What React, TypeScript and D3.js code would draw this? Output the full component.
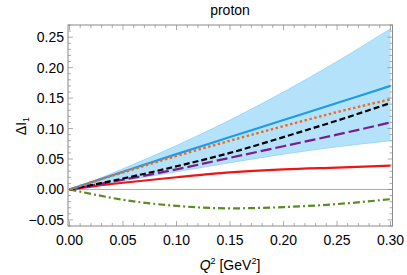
import { useEffect, useRef } from "react";
import * as d3 from "d3";

// Q^2 sample points [GeV^2]
const q2 = [0, 0.025, 0.05, 0.1, 0.15, 0.2, 0.25, 0.3];

// uncertainty band
const bandUpper = [0, 0.016, 0.034, 0.072, 0.114, 0.16, 0.21, 0.264];
const bandLower = [0, 0.007, 0.014, 0.029, 0.044, 0.058, 0.07, 0.08];

// curves
const blueSolid = [0, 0.0145, 0.029, 0.058, 0.086, 0.114, 0.142, 0.17];
const orangeDotted = [0, 0.0142, 0.028, 0.055, 0.08, 0.104, 0.127, 0.148];
const blackDashed = [0, 0.0088, 0.018, 0.038, 0.06, 0.086, 0.113, 0.142];
const purpleDashed = [0, 0.0078, 0.016, 0.033, 0.052, 0.071, 0.09, 0.11];
const redSolid = [0, 0.006, 0.011, 0.02, 0.028, 0.033, 0.036, 0.039];
const greenDashDot = [0, -0.009, -0.017, -0.027, -0.031, -0.029, -0.024, -0.016];

const xTicks = [0, 0.05, 0.1, 0.15, 0.2, 0.25, 0.3];
const yTicks = [-0.05, 0, 0.05, 0.1, 0.15, 0.2, 0.25];

const W = 407;
const H = 275;

export default function App() {
  const svgRef = useRef<SVGSVGElement>(null);

  useEffect(() => {
    if (!svgRef.current) return;
    const svg = d3.select(svgRef.current);
    svg.selectAll("*").remove();

    const left = 68;
    const right = 392.5;
    const top = 25;
    const bottom = 226;

    const x = d3.scaleLinear().domain([0, 0.3]).range([left + 1.5, right - 2]);
    const y = d3.scaleLinear().domain([-0.06, 0.27]).range([bottom, top]);
    const font = "'Liberation Sans', Arial, sans-serif";

    const g = svg.append("g");

    // band
    const area = d3
      .area<number>()
      .x((_, i) => x(q2[i]))
      .y0((_, i) => y(bandLower[i]))
      .y1((d) => y(d))
      .curve(d3.curveMonotoneX);
    g.append("path")
      .datum(bandUpper)
      .attr("d", area)
      .attr("fill", "#b5e2fb");
    const edge = d3
      .line<number>()
      .x((_, i) => x(q2[i]))
      .y((d) => y(d))
      .curve(d3.curveMonotoneX);
    [bandUpper, bandLower].forEach((arr) => {
      g.append("path")
        .datum(arr)
        .attr("d", edge)
        .attr("fill", "none")
        .attr("stroke", "#8fd3f8")
        .attr("stroke-width", 0.8);
    });

    // zero line
    g.append("line")
      .attr("x1", left)
      .attr("x2", right)
      .attr("y1", y(0))
      .attr("y2", y(0))
      .attr("stroke", "#999")
      .attr("stroke-width", 0.8);

    const series = [
      { data: greenDashDot, color: "#5b8c20", dash: "7,3,2,3", width: 2.2 },
      { data: redSolid, color: "#f01414", dash: "", width: 2.2 },
      { data: purpleDashed, color: "#7c1b8f", dash: "11,4", width: 2.2 },
      { data: blackDashed, color: "#000000", dash: "6,3", width: 2.2 },
      { data: blueSolid, color: "#1c9ce8", dash: "", width: 2.2 },
      { data: orangeDotted, color: "#f26a1f", dash: "2.5,2.5", width: 2.4 },
    ];
    series.forEach((s) => {
      g.append("path")
        .datum(s.data)
        .attr("d", edge)
        .attr("fill", "none")
        .attr("stroke", s.color)
        .attr("stroke-width", s.width)
        .attr("stroke-dasharray", s.dash || null);
    });

    // frame
    g.append("rect")
      .attr("x", left)
      .attr("y", top)
      .attr("width", right - left)
      .attr("height", bottom - top)
      .attr("fill", "none")
      .attr("stroke", "#8a8a8a")
      .attr("stroke-width", 1);

    // ticks (inward, all sides)
    const tickColor = "#8a8a8a";
    d3.range(0, 0.3001, 0.01).forEach((v) => {
      const major = Math.abs(v / 0.05 - Math.round(v / 0.05)) < 1e-6;
      const len = major ? 5 : 3;
      [
        [bottom, bottom - len],
        [top, top + len],
      ].forEach(([a, b]) =>
        g.append("line")
          .attr("x1", x(v))
          .attr("x2", x(v))
          .attr("y1", a)
          .attr("y2", b)
          .attr("stroke", tickColor)
          .attr("stroke-width", 0.7)
      );
    });
    d3.range(-0.06, 0.2701, 0.01).forEach((v) => {
      const major = Math.abs(v / 0.05 - Math.round(v / 0.05)) < 1e-6;
      const len = major ? 5 : 3;
      [
        [left, left + len],
        [right, right - len],
      ].forEach(([a, b]) =>
        g.append("line")
          .attr("x1", a)
          .attr("x2", b)
          .attr("y1", y(v))
          .attr("y2", y(v))
          .attr("stroke", tickColor)
          .attr("stroke-width", 0.7)
      );
    });

    // tick labels
    g.selectAll(".xl")
      .data(xTicks)
      .enter()
      .append("text")
      .attr("x", (d) => x(d))
      .attr("y", 245)
      .attr("text-anchor", "middle")
      .attr("font-family", font)
      .attr("font-size", 14)
      .text((d) => d.toFixed(2));
    g.selectAll(".yl")
      .data(yTicks)
      .enter()
      .append("text")
      .attr("x", 64)
      .attr("y", (d) => y(d) + 5)
      .attr("text-anchor", "end")
      .attr("font-family", font)
      .attr("font-size", 14)
      .text((d) => (d < 0 ? "\u2212" + Math.abs(d).toFixed(2) : d.toFixed(2)));

    // title
    g.append("text")
      .attr("x", 230)
      .attr("y", 15)
      .attr("text-anchor", "middle")
      .attr("font-family", font)
      .attr("font-size", 14)
      .text("proton");

    // x label
    const xl = g
      .append("text")
      .attr("x", 230)
      .attr("y", 270)
      .attr("text-anchor", "middle")
      .attr("font-family", font)
      .attr("font-size", 14);
    xl.append("tspan").attr("font-style", "italic").text("Q");
    xl.append("tspan").attr("font-size", 9).attr("dy", -6).text("2");
    xl.append("tspan").attr("dy", 6).text(" [GeV");
    xl.append("tspan").attr("font-size", 9).attr("dy", -6).text("2");
    xl.append("tspan").attr("dy", 6).text("]");

    // y label
    const yl = g
      .append("text")
      .attr("transform", "translate(26,126) rotate(-90)")
      .attr("text-anchor", "middle")
      .attr("font-family", font)
      .attr("font-size", 14);
    yl.append("tspan").text("\u0394I");
    yl.append("tspan").attr("font-size", 9).attr("dy", 3).text("1");
  }, []);

  return (
    <svg
      ref={svgRef}
      width={W}
      height={H}
      style={{ position: "absolute", left: 0, top: 0, background: "#fff" }}
    />
  );
}
